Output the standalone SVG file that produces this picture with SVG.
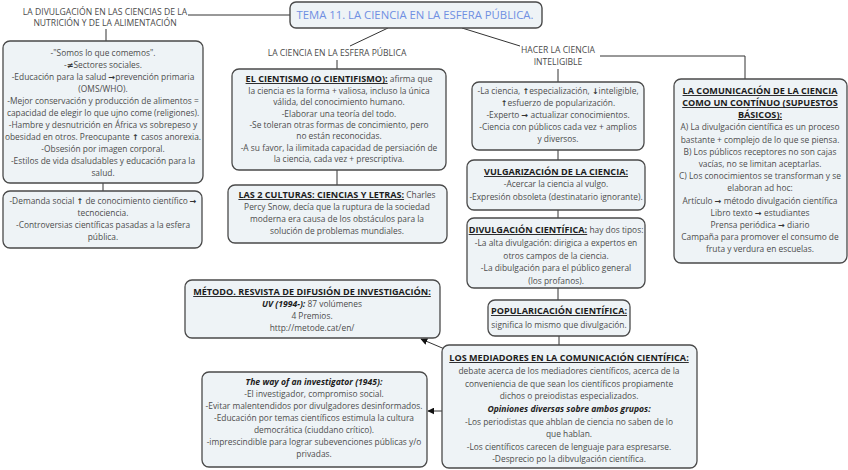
<svg xmlns="http://www.w3.org/2000/svg" width="848" height="470" viewBox="0 0 848 470">
<defs>
<style>
.bg{fill:#ffffff}
.box{fill:#eef3f6;stroke:#4a4a4a;stroke-width:1.3}
.tbox{fill:#eef3f6;stroke:#4a4a4a;stroke-width:1.4}
text{font-family:"Open Sans","Liberation Sans",sans-serif;text-anchor:middle}
.t{font-size:8.4px;fill:#4d4d4d}
.h{font-weight:bold;text-decoration:underline;fill:#1c1c1c;font-size:9.1px}
.bi{font-weight:bold;font-style:italic;fill:#1c1c1c;font-size:8.6px}
.ar{font-family:"DejaVu Sans",sans-serif;font-weight:bold;font-size:8px;fill:#333}
.lbl{font-size:8.6px;fill:#4a4a4a}
.title{font-size:11.3px;fill:#6f8fe2}
.c{fill:none;stroke:#333;stroke-width:1}
</style>
<marker id="ah" viewBox="0 0 10 10" refX="9" refY="5" markerWidth="7" markerHeight="7" orient="auto" markerUnits="userSpaceOnUse">
<path d="M0,0 L10,5 L0,10 z" fill="#111"/>
</marker>
</defs>
<rect class="bg" x="0" y="0" width="848" height="470"/>

<g id="connectors">
<line class="c" x1="188" y1="15" x2="290" y2="15"/>
<line class="c" x1="106" y1="29" x2="106" y2="41"/>
<line class="c" x1="388" y1="28" x2="350" y2="46"/>
<line class="c" x1="337" y1="60" x2="337" y2="69"/>
<line class="c" x1="337" y1="170" x2="337" y2="185"/>
<line class="c" x1="462" y1="28" x2="520" y2="46"/>
<polyline class="c" points="600,56 745,56 745,79"/>
<line class="c" x1="558" y1="69" x2="558" y2="82"/>
<line class="c" x1="558" y1="150" x2="558" y2="160"/>
<line class="c" x1="558" y1="210" x2="558" y2="218"/>
<line class="c" x1="558" y1="288" x2="558" y2="300"/>
<line class="c" x1="559" y1="336" x2="559" y2="345"/>
<line class="c" x1="103" y1="183" x2="103" y2="191"/>
<line class="c" x1="447" y1="350" x2="421" y2="339" marker-end="url(#ah)"/>
<line class="c" x1="442" y1="411" x2="428" y2="411" marker-end="url(#ah)"/>
</g>

<g id="title">
<rect class="tbox" x="290" y="2" width="252" height="26" rx="6"/>
<text class="title" x="415" y="19">TEMA 11. LA CIENCIA EN LA ESFERA PÚBLICA.</text>
</g>

<g id="label-nutricion">
<text class="lbl" x="105" y="15">LA DIVULGACIÓN EN LAS CIENCIAS DE LA</text>
<text class="lbl" x="105" y="26">NUTRICIÓN Y DE LA ALIMENTACIÓN</text>
</g>

<g id="label-esfera">
<text class="lbl" x="337" y="56">LA CIENCIA EN LA ESFERA PÚBLICA</text>
</g>

<g id="label-hacer">
<text class="lbl" x="558" y="53">HACER LA CIENCIA</text>
<text class="lbl" x="558" y="65">INTELIGIBLE</text>
</g>

<g id="box-nutricion">
<rect class="box" x="3" y="41" width="200" height="142" rx="7"/>
<text class="t" x="103" y="56">-"Somos lo que comemos".</text>
<text class="t" x="103" y="68">-<tspan class="ar">≠</tspan>Sectores sociales.</text>
<text class="t" x="103" y="80">-Educación para la salud <tspan class="ar">→</tspan>prevención primaria</text>
<text class="t" x="103" y="92">(OMS/WHO).</text>
<text class="t" x="103" y="104">-Mejor conservación y producción de alimentos =</text>
<text class="t" x="103" y="116">capacidad de elegir lo que ujno come (religiones).</text>
<text class="t" x="103" y="128">-Hambre y desnutrición en África vs sobrepeso y</text>
<text class="t" x="103" y="140">obesidad en otros. Preocupante <tspan class="ar">↑</tspan> casos anorexia.</text>
<text class="t" x="103" y="152">-Obsesión por imagen corporal.</text>
<text class="t" x="103" y="164">-Estilos de vida dsaludables y educación para la</text>
<text class="t" x="103" y="176">salud.</text>
</g>

<g id="box-demanda">
<rect class="box" x="3" y="191" width="199" height="57" rx="7"/>
<text class="t" x="103" y="204">-Demanda social <tspan class="ar">↑</tspan> de conocimiento científico <tspan class="ar">→</tspan></text>
<text class="t" x="103" y="216">tecnociencia.</text>
<text class="t" x="103" y="228">-Controversias científicas pasadas a la esfera</text>
<text class="t" x="103" y="240">pública.</text>
</g>

<g id="box-cientismo">
<rect class="box" x="232" y="69" width="214" height="101" rx="7"/>
<text class="t" x="339" y="82"><tspan class="h">EL CIENTISMO (O CIENTIFISMO):</tspan> afirma que</text>
<text class="t" x="339" y="94">la ciencia es la forma + valiosa, incluso la única</text>
<text class="t" x="339" y="105">válida, del conocimiento humano.</text>
<text class="t" x="339" y="117">-Elaborar una teoría del todo.</text>
<text class="t" x="339" y="128">-Se toleran otras formas de concimiento, pero</text>
<text class="t" x="339" y="139">no están reconocidas.</text>
<text class="t" x="339" y="151">-A su favor, la ilimitada capacidad de persiación de</text>
<text class="t" x="339" y="162">la ciencia, cada vez + prescriptiva.</text>
</g>

<g id="box-culturas">
<rect class="box" x="228" y="185" width="219" height="58" rx="7"/>
<text class="t" x="337" y="198"><tspan class="h">LAS 2 CULTURAS: CIENCIAS  Y LETRAS:</tspan> Charles</text>
<text class="t" x="337" y="210">Percy Snow, decía que la ruptura de la sociedad</text>
<text class="t" x="337" y="222">moderna era causa de los obstáculos para la</text>
<text class="t" x="337" y="234">solución de problemas mundiales.</text>
</g>

<g id="box-inteligible">
<rect class="box" x="472" y="82" width="172" height="68" rx="7"/>
<text class="t" x="558" y="94">-La ciencia, <tspan class="ar">↑</tspan>especialización, <tspan class="ar">↓</tspan>inteligible,</text>
<text class="t" x="558" y="106"><tspan class="ar">↑</tspan>esfuerzo de popularización.</text>
<text class="t" x="558" y="118">-Experto <tspan class="ar">→</tspan> actualizar conocimientos.</text>
<text class="t" x="558" y="130">-Ciencia con públicos cada vez + amplios</text>
<text class="t" x="558" y="142">y diversos.</text>
</g>

<g id="box-vulgarizacion">
<rect class="box" x="467" y="160" width="178" height="50" rx="7"/>
<text class="t" x="556" y="175"><tspan class="h">VULGARIZACIÓN DE LA CIENCIA:</tspan></text>
<text class="t" x="556" y="187">-Acercar la ciencia al vulgo.</text>
<text class="t" x="556" y="200">-Expresión obsoleta (destinatario ignorante).</text>
</g>

<g id="box-divulgacion">
<rect class="box" x="467" y="218" width="178" height="70" rx="7"/>
<text class="t" x="556" y="233"><tspan class="h">DIVULGACIÓN CIENTÍFICA:</tspan> hay dos tipos:</text>
<text class="t" x="556" y="246">-La alta divulgación: dirigica a expertos en</text>
<text class="t" x="556" y="259">otros campos de la ciencia.</text>
<text class="t" x="556" y="271">-La dibulgación para el público general</text>
<text class="t" x="556" y="284">(los profanos).</text>
</g>

<g id="box-popularicacion">
<rect class="box" x="488" y="300" width="142" height="36" rx="7"/>
<text class="t" x="559" y="314"><tspan class="h">POPULARICACIÓN CIENTÍFICA:</tspan></text>
<text class="t" x="559" y="328">significa lo mismo que divulgación.</text>
</g>

<g id="box-mediadores">
<rect class="box" x="442" y="345" width="255" height="123" rx="7"/>
<text class="t" x="569" y="361"><tspan class="h">LOS MEDIADORES EN LA COMUNICACIÓN CIENTÍFICA:</tspan></text>
<text class="t" x="569" y="374">debate acerca de los mediadores científicos, acerca de la</text>
<text class="t" x="569" y="387">conveniencia de que sean los científicos propiamente</text>
<text class="t" x="569" y="399">dichos o preiodistas especializados.</text>
<text class="t" x="569" y="412"><tspan class="bi">Opiniones diversas sobre ambos grupos:</tspan></text>
<text class="t" x="569" y="425">-Los periodistas que ahblan de ciencia no saben de lo</text>
<text class="t" x="569" y="437">que hablan.</text>
<text class="t" x="569" y="450">-Los científicos carecen de lenguaje para espresarse.</text>
<text class="t" x="569" y="462">-Desprecio po la dibvulgación científica.</text>
</g>

<g id="box-comunicacion">
<rect class="box" x="674" y="79" width="173" height="184" rx="7"/>
<text class="t" x="760" y="94"><tspan class="h">LA COMUNICACIÓN DE LA CIENCIA</tspan></text>
<text class="t" x="760" y="106"><tspan class="h">COMO UN CONTÍNUO (SUPUESTOS</tspan></text>
<text class="t" x="760" y="118"><tspan class="h">BÁSICOS):</tspan></text>
<text class="t" x="760" y="130">A) La divulgación científica es un proceso</text>
<text class="t" x="760" y="143">bastante + complejo de lo que se piensa.</text>
<text class="t" x="760" y="155">B) Los públicos receptores no son cajas</text>
<text class="t" x="760" y="167">vacías,  no se limitan aceptarlas.</text>
<text class="t" x="760" y="179">C) Los conocimientos se transforman y se</text>
<text class="t" x="760" y="191">elaboran ad hoc:</text>
<text class="t" x="760" y="204">Artículo <tspan class="ar">→</tspan> método divulgación científica</text>
<text class="t" x="760" y="216">Libro texto <tspan class="ar">→</tspan> estudiantes</text>
<text class="t" x="760" y="228">Prensa periódica <tspan class="ar">→</tspan> diario</text>
<text class="t" x="760" y="240">Campaña para promover el consumo de</text>
<text class="t" x="760" y="252">fruta y verdura en escuelas.</text>
</g>

<g id="box-metode">
<rect class="box" x="185" y="280" width="255" height="58" rx="7"/>
<text class="t" x="312" y="295"><tspan class="h">MÉTODO. RESVISTA DE DIFUSIÓN DE INVESTIGACIÓN:</tspan></text>
<text class="t" x="312" y="307"><tspan class="bi">UV (1994-):</tspan>  87 volúmenes</text>
<text class="t" x="312" y="319">4 Premios.</text>
<text class="t" x="312" y="331">http://metode.cat/en/</text>
</g>

<g id="box-investigator">
<rect class="box" x="202" y="372" width="225" height="95" rx="7"/>
<text class="t" x="314" y="385"><tspan class="bi">The way of an investigator (1945):</tspan></text>
<text class="t" x="314" y="397">-El  investigador, compromiso social.</text>
<text class="t" x="314" y="409">-Evitar malentendidos por divulgadores desinformados.</text>
<text class="t" x="314" y="421">-Educación por temas científicos estimula la cultura</text>
<text class="t" x="314" y="433">democrática (ciuddano crítico).</text>
<text class="t" x="314" y="445">-imprescindible para lograr subevenciones públicas y/o</text>
<text class="t" x="314" y="457">privadas.</text>
</g>
</svg>
